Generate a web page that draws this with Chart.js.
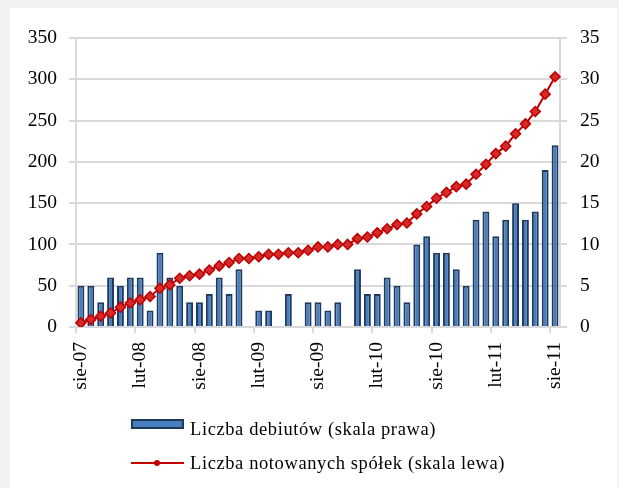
<!DOCTYPE html>
<html lang="pl">
<head>
<meta charset="utf-8">
<title>Liczba debiutów i notowanych spółek</title>
<script src="https://cdn.jsdelivr.net/npm/chart.js@4.4.1/dist/chart.umd.min.js"></script>
<style>
  html, body { margin: 0; padding: 0; background: #f2f2f2; }
  #wrap { position: relative; width: 619px; height: 488px; overflow: hidden; }
  #panel { position: absolute; left: 10px; top: 8px; width: 607px; height: 480px; background: #fff; }
  #chart { position: absolute; left: 0; top: 0; }
  .legend-text { position: absolute; left: 190px; font: 18.5px "Liberation Serif", serif; letter-spacing: 0.6px; line-height: 22px; color: #000; white-space: nowrap; }
  .icon-bar { position: absolute; left: 131px; top: 419px; width: 53px; height: 10px; box-sizing: border-box; background: #4a7ebb; border: 2px solid #1f3a60; }
  .icon-line { position: absolute; left: 131px; top: 462px; width: 53px; height: 2px; background: #c00000; }
  .icon-dot { position: absolute; left: 154px; top: 460px; width: 6px; height: 6px; border-radius: 50%; background: #c00000; }
</style>
</head>
<body>
<div id="wrap">
  <div id="panel"></div>
  <canvas id="chart" width="619" height="488"></canvas>
  <div class="icon-bar"></div>
  <div class="legend-text" style="top:418px">Liczba debiutów (skala prawa)</div>
  <div class="icon-line"></div>
  <div class="icon-dot"></div>
  <div class="legend-text" style="top:452px">Liczba notowanych spółek (skala lewa)</div>
</div>
<script>
// months Aug 2007 - Aug 2011
const months = [
    'sie-07', 'wrz-07', 'paź-07', 'lis-07', 'gru-07',
    'sty-08', 'lut-08', 'mar-08', 'kwi-08', 'maj-08', 'cze-08', 'lip-08', 'sie-08', 'wrz-08', 'paź-08', 'lis-08', 'gru-08',
    'sty-09', 'lut-09', 'mar-09', 'kwi-09', 'maj-09', 'cze-09', 'lip-09', 'sie-09', 'wrz-09', 'paź-09', 'lis-09', 'gru-09',
    'sty-10', 'lut-10', 'mar-10', 'kwi-10', 'maj-10', 'cze-10', 'lip-10', 'sie-10', 'wrz-10', 'paź-10', 'lis-10', 'gru-10',
    'sty-11', 'lut-11', 'mar-11', 'kwi-11', 'maj-11', 'cze-11', 'lip-11', 'sie-11'
];

// right scale
const debiuty = [
    5, 5, 3, 6, 5, 6, 6, 2, 9, 6, 5, 3, 3, 4, 6, 4, 7,
    0, 2, 2, 0, 4, 0, 3, 3, 2, 3, 0, 7,
    4, 4, 6, 5, 3, 10, 11, 9, 9, 7, 5, 13,
    14, 11, 13, 15, 13, 14, 19, 22
];

// left scale
const notowane = [
    5, 9, 13, 17, 24, 29, 33, 37, 47, 51, 59, 62, 64, 69, 74, 78, 83,
    83, 85, 88, 88, 90, 90, 93, 97, 97, 100, 100, 107,
    109, 114, 119, 124, 126, 137, 146, 156, 163, 170, 173, 185,
    197, 210, 219, 234, 246, 261, 282, 303
];

const leftTicks = [0, 50, 100, 150, 200, 250, 300, 350];
const rightTicks = [0, 5, 10, 15, 20, 25, 30, 35];

const gridColor = '#d9d9d9';
const tickFont = { family: '"Liberation Serif", serif', size: 19.5 };

new Chart(document.getElementById('chart'), {
    data: {
        labels: months,
        datasets: [
            {
                type: 'line',
                label: 'Liczba notowanych spółek (skala lewa)',
                data: notowane,
                yAxisID: 'y',
                borderColor: '#c00000',
                borderWidth: 2,
                tension: 0,
                pointStyle: 'rectRot',
                pointRadius: 5,
                pointBorderWidth: 1.5,
                pointBackgroundColor: '#d42a2a',
                pointBorderColor: '#c00000',
                order: 0
            },
            {
                type: 'bar',
                label: 'Liczba debiutów (skala prawa)',
                data: debiuty,
                yAxisID: 'y1',
                backgroundColor: '#4a7ebb',
                borderColor: '#1f3a60',
                borderWidth: ctx => ctx.raw ? 2 : 0,
                barPercentage: 0.7,
                categoryPercentage: 1,
                order: 1
            }
        ]
    },
    options: {
        responsive: false,
        animation: false,
        layout: { padding: { top: 38, left: 0, right: 0, bottom: 0 } },
        plugins: {
            legend: { display: false },
            tooltip: { enabled: false }
        },
        scales: {
            x: {
                grid: {
                    offset: true,
                    drawOnChartArea: false,
                    tickLength: 6,
                    lineWidth: 2,
                    color: ctx => ctx.index % 6 === 0 ? gridColor : 'transparent'
                },
                border: { color: gridColor, width: 2 },
                ticks: {
                    autoSkip: false,
                    minRotation: 90,
                    maxRotation: 90,
                    padding: 9,
                    color: '#000',
                    font: tickFont,
                    callback: function (value, index) {
                        return index % 6 === 0 ? this.getLabelForValue(value) : '';
                    }
                },
                afterFit: scale => { scale.height = 161; }
            },
            y: {
                position: 'left',
                min: leftTicks[0],
                max: leftTicks[leftTicks.length - 1],
                afterBuildTicks: scale => { scale.ticks = leftTicks.map(v => ({ value: v })); },
                grid: { color: gridColor, lineWidth: 2, tickLength: 7 },
                border: { color: gridColor, width: 2 },
                ticks: { padding: 12, color: '#000', font: tickFont },
                afterFit: scale => { scale.width = 76; }
            },
            y1: {
                position: 'right',
                min: rightTicks[0],
                max: rightTicks[rightTicks.length - 1],
                afterBuildTicks: scale => { scale.ticks = rightTicks.map(v => ({ value: v })); },
                grid: { drawOnChartArea: false, color: gridColor, lineWidth: 2, tickLength: 7 },
                border: { color: gridColor, width: 2 },
                ticks: { padding: 13, color: '#000', font: tickFont },
                afterFit: scale => { scale.width = 59; }
            }
        }
    }
});
</script>
</body>
</html>
